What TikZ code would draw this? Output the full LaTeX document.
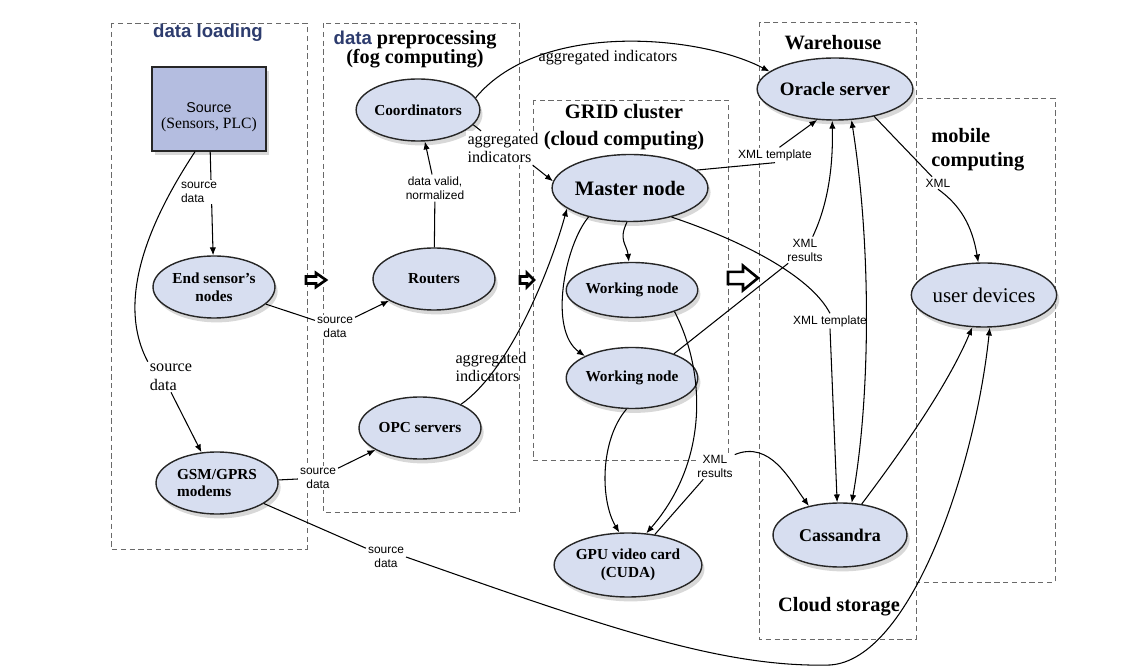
\documentclass[tikz,border=0pt]{standalone}
\usepackage{fontspec}
\setmainfont{Liberation Serif}
\setsansfont{Liberation Sans}
\usetikzlibrary{shapes.geometric,shadows,arrows.meta}

\definecolor{nodeblue}{RGB}{215,222,240}
\definecolor{srcblue}{RGB}{180,189,224}
\definecolor{titleblue}{RGB}{45,60,110}
\definecolor{boxgray}{RGB}{105,105,105}

\begin{document}
\begin{tikzpicture}[x=0.02cm, y=-0.02cm, >={Latex[length=4.5pt,width=3.6pt]},
  proc/.style={ellipse, draw=black!85, line width=0.8pt, fill=nodeblue, minimum width=2.44cm, minimum height=1.24cm, inner sep=0pt, align=center, font=\fontsize{8.7}{10.2}\selectfont\bfseries, drop shadow={shadow xshift=1.5pt, shadow yshift=-2.5pt, fill=black!30}},
  srcbox/.style={rectangle, draw=black!85, line width=0.8pt, fill=srcblue, minimum width=2.28cm, minimum height=1.68cm, align=center, font=\fontsize{8.9}{8.8}\selectfont, drop shadow={shadow xshift=1.5pt, shadow yshift=-2.5pt, fill=black!30}},
  zone/.style={draw=boxgray, dash pattern=on 3pt off 2pt, line width=0.5pt},
  ztitle/.style={font=\fontsize{11.6}{14}\selectfont\bfseries, align=center, inner sep=0pt},
  slab/.style={font=\sffamily\fontsize{6.8}{8}\selectfont, align=center, inner sep=1pt, fill=white},
  rlab/.style={font=\fontsize{9.2}{10.6}\selectfont, align=left, inner sep=1pt},
  link/.style={line width=0.6pt}]

\useasboundingbox (0,0) rectangle (1143,668);

\draw[zone] (111,23) rectangle (307,549);
\draw[zone] (323,23) rectangle (519,512);
\draw[zone] (533,100) rectangle (728,460);
\draw[zone] (759,22) rectangle (916,639);
\draw[zone] (916,98) rectangle (1055,582);

\node[font=\sffamily\fontsize{10.6}{12}\selectfont\bfseries, text=titleblue] (tload) at (208,33) {data loading};
\node[ztitle, font=\fontsize{11.5}{10.8}\selectfont\bfseries] (tprep) at (415,49) {{\sffamily\fontsize{10.6}{10.8}\selectfont\color{titleblue}data} preprocessing\\(fog computing)};
\node[ztitle, font=\fontsize{11.7}{15.4}\selectfont\bfseries] (tgrid) at (624,127) {GRID cluster\\(cloud computing)};
\node[ztitle] (tware) at (833,43) {Warehouse};
\node[ztitle, align=left, anchor=west, font=\fontsize{11.6}{13.7}\selectfont\bfseries] (tmob) at (931,150) {mobile\\computing};
\node[ztitle] (tcloud) at (839,607) {Cloud storage};

\node[srcbox] (src) at (209,109) {\rule{0pt}{15pt}{\sffamily\fontsize{8.1}{8.8}\selectfont Source}\\(Sensors, PLC)};
\node[proc] (coord) at (418,110) {Coordinators};
\node[proc] (esn) at (214,287) {End sensor's\\nodes};
\node[proc] (rout) at (434,279) {Routers};
\node[proc] (opc) at (420,428) {OPC servers};
\node[proc, align=left] (gsm) at (217,483) {GSM/GPRS\\modems};
\node[proc, minimum width=2.92cm, minimum height=1.34cm, font=\fontsize{11.7}{14}\selectfont\bfseries] (master) at (630,188) {Master node};
\node[proc, minimum height=1.1cm] (wn1) at (632,290) {Working node};
\node[proc, minimum height=1.22cm] (wn2) at (632,378) {Working node};
\node[proc, minimum width=2.46cm, minimum height=1.28cm] (gpu) at (628,565) {GPU video card\\(CUDA)};
\node[proc, minimum width=2.68cm, minimum height=1.28cm, font=\fontsize{10.2}{12}\selectfont\bfseries] (cass) at (840,535) {Cassandra};
\node[proc, minimum width=2.4cm, font=\fontsize{10.8}{12}\selectfont\bfseries] (oracle) at (835,89) {Oracle server};
\node[proc, minimum height=1.28cm, font=\fontsize{11.9}{14}\selectfont] (ud) at (984,295) {user devices};

\draw[link, ->] (src) -- (esn);

\node[slab, align=left] (l1) at (199,192) {source\\data};
\node[rlab, fill=white] (l2) at (171,377) {source\\data};
\node[slab] (l3) at (335,327) {source\\data};
\node[slab] (l4) at (318,478) {source\\data};
\node[slab] (l5) at (386,557) {source\\data};
\node[slab] (l6) at (435,188) {data valid,\\normalized};
\node[rlab] (l7) at (608,58) {aggregated indicators};
\node[rlab, fill=white] (l8) at (503,148) {aggregated\\indicators};
\node[rlab] (l9) at (491,367) {aggregated\\indicators};
\node[slab] (l10) at (775,155) {XML template};
\node[slab] (l11) at (805,250) {XML\\results};
\node[slab] (l12) at (830,321) {XML template};
\node[slab] (l13) at (938,183) {XML};
\node[slab] (l14) at (715,466) {XML\\results};

\draw[link] ([xshift=-0.28cm]src.south) .. controls (150,220) and (115,300) .. (l2.north west);
\draw[link, ->] (l2.south) -- (gsm);
\draw[link] (esn) -- (l3);
\draw[link, ->] (l3) -- (rout);
\draw[link] (gsm) -- (l4);
\draw[link, ->] (l4) -- (opc);
\draw[link] (gsm) -- (l5);
\draw[link, ->] (l5.east) .. controls (600,625) and (720,668) .. (830,665) .. controls (910,660) and (975,470) .. (ud.-80);
\draw[link] (rout) -- (l6);
\draw[link, ->] (l6) -- (coord);
\draw[link, ->] (coord.12) .. controls (540,20) and (700,35) .. (oracle.165);
\draw[link] (coord.-15) -- (l8);
\draw[link, ->] (l8.-30) -- (master.175);
\draw[link, ->] (opc.30) .. controls (510,370) and (550,270) .. (master.-162);
\draw[link] (master.15) -- (l10.south);
\draw[link, ->] (l10.60) -- (oracle.-120);
\draw[link] (master.-35) .. controls (740,240) and (810,275) .. (l12.north);
\draw[link, ->] (l12.south) -- (cass.95);
\draw[link, <->] (oracle.-62) .. controls (872,250) and (870,400) .. (cass.70);
\draw[link] (wn2.30) -- (l11);
\draw[link, ->] (l11.60) .. controls (830,200) and (833,160) .. (oracle.-95);
\draw[link] (oracle.-35) -- (l13);
\draw[link, ->] (l13.south) .. controls (960,205) and (972,225) .. (ud.100);
\draw[link, ->] (master.-95) .. controls (618,240) and (627,245) .. (wn1);
\draw[link, ->] (master.-145) .. controls (565,245) and (548,330) .. (wn2.155);
\draw[link, ->] (wn1.-27) .. controls (705,370) and (710,460) .. (gpu.60);
\draw[link, ->] (wn2.-100) .. controls (600,440) and (600,500) .. (gpu.105);
\draw[link] (gpu) -- (l14);
\draw[link, ->] (l14.30) .. controls (770,440) and (790,480) .. (cass.137);
\draw[link, ->] (cass.55) .. controls (910,440) and (950,380) .. (ud.-110);

\foreach \hx/\hy/\hsx/\hsy in {316/280/1/1, 527/280/0.7/1, 743/278/1.5/1.75}
  \draw[line width=1.5pt, fill=white, shift={(\hx,\hy)}, xscale=\hsx, yscale=\hsy] (-10,-3.5) -- (0,-3.5) -- (0,-7) -- (10,0) -- (0,7) -- (0,3.5) -- (-10,3.5) -- cycle;

\end{tikzpicture}
\end{document}
